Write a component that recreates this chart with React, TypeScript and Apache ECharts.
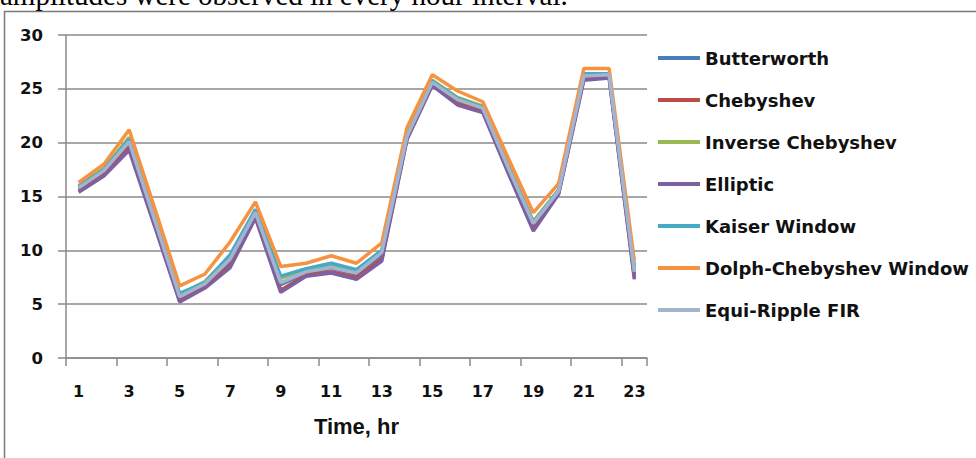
import React, { useEffect, useRef } from "react";
import * as echarts from "echarts";

const hours = ["1","2","3","4","5","6","7","8","9","10","11","12","13","14","15","16","17","18","19","20","21","22","23"];

const butterworth = [15.7, 17.3, 19.9, 12.7, 5.5, 6.8, 9.0, 13.3, 6.8, 7.9, 8.3, 7.8, 9.6, 20.5, 25.5, 23.9, 23.1, 17.6, 12.3, 15.4, 26.1, 26.2, 7.8];
const chebyshev = [15.5, 17.0, 19.5, 12.5, 5.3, 6.6, 8.6, 13.1, 6.3, 7.7, 8.0, 7.5, 9.2, 20.4, 25.4, 23.7, 22.9, 17.4, 12.0, 15.3, 25.9, 26.1, 7.5];
const inverseChebyshev = [16.0, 17.6, 20.5, 13.1, 5.9, 7.1, 9.5, 13.7, 7.4, 8.2, 8.7, 8.1, 10.0, 20.8, 25.8, 24.2, 23.4, 17.9, 12.7, 15.6, 26.3, 26.4, 8.3];
const elliptic = [15.4, 16.9, 19.3, 12.3, 5.2, 6.5, 8.4, 13.0, 6.1, 7.6, 7.9, 7.3, 9.0, 20.3, 25.3, 23.5, 22.8, 17.2, 11.8, 15.2, 25.8, 26.0, 7.3];
const kaiserWindow = [15.9, 17.5, 20.3, 13.0, 6.0, 7.0, 9.6, 13.8, 7.6, 8.3, 8.8, 8.2, 10.0, 20.7, 25.7, 24.1, 23.3, 17.8, 12.6, 15.6, 26.4, 26.4, 8.5];
const dolphChebyshev = [16.3, 18.0, 21.2, 14.0, 6.7, 7.8, 10.8, 14.5, 8.5, 8.8, 9.5, 8.8, 10.7, 21.4, 26.3, 24.8, 23.8, 18.6, 13.5, 16.2, 26.9, 26.9, 9.0];
const equiRipple = [15.8, 17.4, 20.1, 12.9, 5.7, 6.9, 9.2, 13.5, 7.0, 8.0, 8.4, 7.9, 9.8, 20.6, 25.6, 24.0, 23.2, 17.7, 12.5, 15.5, 26.2, 26.3, 8.0];

const seriesNames = ["Butterworth", "Chebyshev", "Inverse Chebyshev", "Elliptic", "Kaiser Window", "Dolph-Chebyshev Window", "Equi-Ripple FIR"];
const seriesData = [butterworth, chebyshev, inverseChebyshev, elliptic, kaiserWindow, dolphChebyshev, equiRipple];
const seriesColors = ["#4A7EBB", "#BE4B48", "#98B954", "#7D60A0", "#46AAC5", "#F69240", "#A3B5CE"];

const yTicks = { min: 0, max: 30, interval: 5 };
const headerText = "amplitudes were observed in every hour interval.";
const xAxisName = "Time, hr";

export default function App() {
  const ref = useRef<HTMLDivElement>(null);
  useEffect(() => {
    if (!ref.current) return;
    const chart = echarts.init(ref.current, null, { renderer: "svg" });
    const gray = "#8a8a8a";
    chart.setOption({
      animation: false,
      backgroundColor: "#ffffff",
      graphic: [
        {
          type: "rect",
          shape: { x: 4.5, y: 11.5, width: 1000, height: 500 },
          style: { fill: "none", stroke: "#7a7a7a", lineWidth: 1.5 },
          silent: true,
        },
        {
          type: "text",
          left: 0,
          top: -20,
          style: {
            text: headerText,
            font: "29px 'Liberation Serif'",
            fill: "#000",
          },
          silent: true,
        },
      ],
      grid: { left: 66, right: 329, top: 35, bottom: 100, containLabel: false },
      legend: {
        orient: "vertical",
        left: 653,
        top: 44,
        icon: "rect",
        itemWidth: 42,
        itemHeight: 4,
        itemGap: 24,
        data: seriesNames,
        textStyle: {
          fontFamily: "DejaVu Sans",
          fontWeight: "bold",
          fontSize: 18,
          color: "#111",
        },
      },
      xAxis: {
        type: "category",
        data: hours,
        boundaryGap: true,
        name: xAxisName,
        nameLocation: "middle",
        nameGap: 57,
        nameTextStyle: {
          fontFamily: "Liberation Sans",
          fontWeight: "bold",
          fontSize: 22,
          color: "#111",
        },
        axisLine: { show: true, lineStyle: { color: gray, width: 1.5 } },
        axisTick: { show: true, interval: 1, length: 8, lineStyle: { color: gray, width: 1.5 } },
        axisLabel: {
          interval: 1,
          margin: 25,
          fontFamily: "DejaVu Sans",
          fontWeight: "bold",
          fontSize: 16,
          color: "#111",
        },
        splitLine: { show: false },
      },
      yAxis: {
        type: "value",
        min: yTicks.min,
        max: yTicks.max,
        interval: yTicks.interval,
        axisLine: { show: true, lineStyle: { color: gray, width: 1.5 } },
        axisTick: { show: true, length: 8, lineStyle: { color: gray, width: 1.5 } },
        axisLabel: {
          margin: 23,
          fontFamily: "DejaVu Sans",
          fontWeight: "bold",
          fontSize: 16.5,
          color: "#111",
        },
        splitLine: { show: true, lineStyle: { color: gray, width: 1.5 } },
      },
      series: seriesNames.map((name, i) => ({
        name,
        type: "line",
        data: seriesData[i],
        symbol: "none",
        showSymbol: false,
        color: seriesColors[i],
        lineStyle: { color: seriesColors[i], width: 3.5 },
      })),
    });
    return () => chart.dispose();
  }, []);
  return (
    <div
      ref={ref}
      style={{ position: "fixed", left: 0, top: 0, width: 976, height: 458, background: "#fff" }}
    />
  );
}
